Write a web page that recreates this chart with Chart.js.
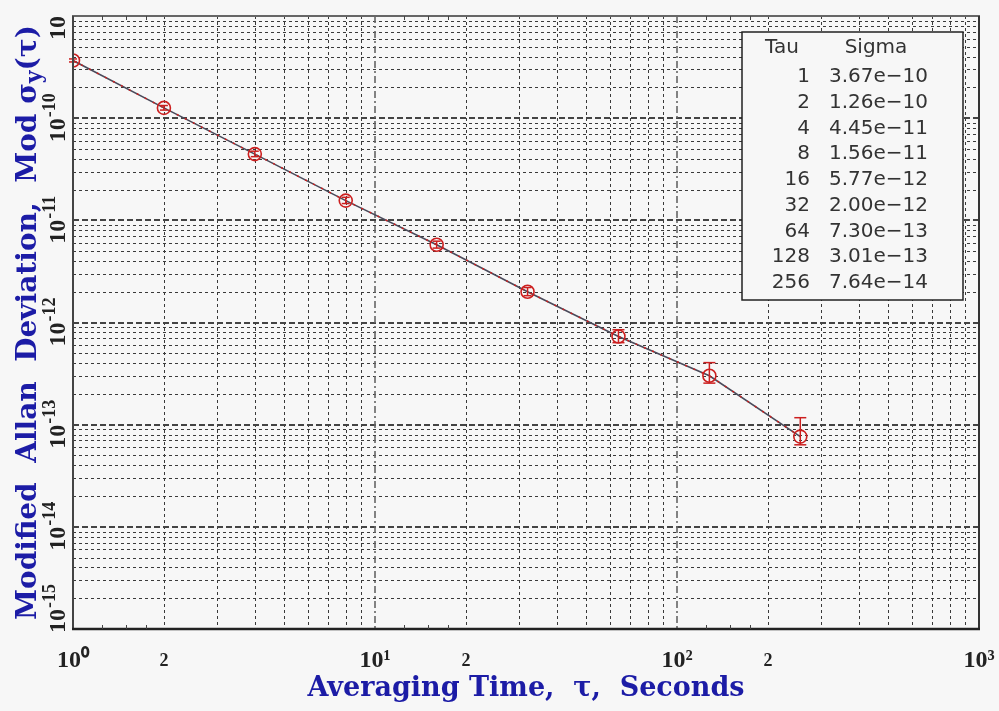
<!DOCTYPE html>
<html>
<head>
<meta charset="utf-8">
<script src="https://cdn.jsdelivr.net/npm/chart.js@4"></script>
<style>
  body { margin: 0; background: #f7f7f7; }
  canvas { display: block; background: #f7f7f7; }
</style>
</head>
<body>
<canvas id="adevChart" width="999" height="711"></canvas>
<script>
// measured points (tau in seconds, modified allan deviation)
var tauValues = [1, 2, 4, 8, 16, 32, 64, 128, 256];
var sigmaValues = [3.67e-10, 1.26e-10, 4.45e-11, 1.56e-11, 5.77e-12, 2.00e-12, 7.30e-13, 3.01e-13, 7.64e-14];
// error bar ends
var sigmaHigh = [3.80e-10, 1.33e-10, 4.75e-11, 1.68e-11, 6.25e-12, 2.20e-12, 8.50e-13, 4.05e-13, 1.17e-13];
var sigmaLow = [3.55e-10, 1.20e-10, 4.20e-11, 1.46e-11, 5.35e-12, 1.83e-12, 6.35e-13, 2.55e-13, 6.35e-14];

// axis ticks
var xTickValues = [1, 2, 10, 20, 100, 200, 1000];
var xTickLabels = ['10\u2070', '2', '10\u00b9', '2', '10\u00b2', '2', '10\u00b3'];
var yTickValues = [1e-15, 1e-14, 1e-13, 1e-12, 1e-11, 1e-10, 1e-9];
var yTickExponents = ['-15', '-14', '-13', '-12', '-11', '-10', ''];

var titleBlue = '#1c1ca6';
var markRed = '#cc1f1f';

var points = tauValues.map(function(t, i) { return { x: t, y: sigmaValues[i] }; });

function line(ctx, x1, y1, x2, y2) {
    ctx.beginPath();
    ctx.moveTo(x1, y1);
    ctx.lineTo(x2, y2);
    ctx.stroke();
}

// dotted grid like the original plot
var gridPlugin = {
    id: 'logGrid',
    beforeDatasetsDraw: function(chart) {
        var ctx = chart.ctx, a = chart.chartArea;
        var xs = chart.scales.x, ys = chart.scales.y;
        ctx.save();
        ctx.beginPath();
        ctx.rect(a.left, a.top, a.right - a.left, a.bottom - a.top);
        ctx.clip();

        // minor lines
        ctx.strokeStyle = '#3a3a3a';
        ctx.lineWidth = 1;
        ctx.setLineDash([3, 3]);
        for (var d = 0; d < 3; d++) {
            for (var k = 2; k <= 9; k++) {
                var px = Math.round(xs.getPixelForValue(k * Math.pow(10, d))) + 0.5;
                line(ctx, px, a.top, px, a.bottom);
            }
        }
        for (var e = -15; e < -9; e++) {
            for (var k = 2; k <= 9; k++) {
                var py = Math.round(ys.getPixelForValue(k * Math.pow(10, e))) + 0.5;
                line(ctx, a.left, py, a.right, py);
            }
        }

        // decade lines
        ctx.strokeStyle = '#444';
        ctx.lineWidth = 2;
        ctx.setLineDash([6, 3]);
        for (var e = -14; e <= -10; e++) {
            var py = Math.round(ys.getPixelForValue(Math.pow(10, e)));
            line(ctx, a.left, py, a.right, py);
        }
        ctx.strokeStyle = '#666';
        ctx.lineWidth = 1.6;
        ctx.setLineDash([7, 3, 2, 3]);
        [10, 100].forEach(function(v) {
            var px = Math.round(xs.getPixelForValue(v));
            line(ctx, px, a.top, px, a.bottom);
        });
        ctx.restore();
    }
};

// vertical error bars
var errorBarPlugin = {
    id: 'errorBars',
    afterDatasetsDraw: function(chart) {
        var ctx = chart.ctx;
        var xs = chart.scales.x, ys = chart.scales.y;
        ctx.save();
        ctx.strokeStyle = markRed;
        ctx.lineWidth = 1.5;
        for (var i = 0; i < tauValues.length; i++) {
            var px = xs.getPixelForValue(tauValues[i]);
            var yTop = ys.getPixelForValue(sigmaHigh[i]);
            var yBot = ys.getPixelForValue(sigmaLow[i]);
            var cap = i >= 6 ? 6 : 4;
            line(ctx, px, yTop, px, yBot);
            line(ctx, px - cap, yTop, px + cap, yTop);
            line(ctx, px - cap, yBot, px + cap, yBot);
        }
        ctx.restore();
    }
};

// frame, rotated y labels, y title and the tau/sigma table
var decorPlugin = {
    id: 'decor',
    afterDraw: function(chart) {
        var ctx = chart.ctx, a = chart.chartArea;
        var xs = chart.scales.x, ys = chart.scales.y;
        ctx.save();

        // frame
        ctx.setLineDash([]);
        ctx.strokeStyle = '#666';
        ctx.lineWidth = 2;
        line(ctx, a.left - 1, a.top, a.right + 1, a.top);
        ctx.strokeStyle = '#333';
        line(ctx, a.right, a.top, a.right, a.bottom);
        ctx.strokeStyle = '#444';
        line(ctx, a.left, a.top, a.left, a.bottom + 1);
        ctx.strokeStyle = '#222';
        ctx.lineWidth = 2.5;
        line(ctx, a.left - 1, a.bottom, a.right + 1, a.bottom);

        // small minor ticks on top and bottom
        ctx.lineWidth = 1;
        ctx.strokeStyle = '#444';
        [1, 10, 100].forEach(function(d) {
            [1.25, 1.5, 1.75].forEach(function(f) {
                var px = Math.round(xs.getPixelForValue(d * f)) + 0.5;
                line(ctx, px, a.bottom - 4, px, a.bottom);
                line(ctx, px, a.top, px, a.top + 4);
            });
        });

        // y tick labels, rotated
        ctx.fillStyle = '#222';
        var baseFont = 'bold 24px "Liberation Serif"';
        var expFont = 'bold 18px "Liberation Serif"';
        for (var i = 0; i < yTickValues.length; i++) {
            var py = ys.getPixelForValue(yTickValues[i]);
            ctx.font = baseFont;
            var wBase = ctx.measureText('10').width;
            ctx.font = expFont;
            var wExp = ctx.measureText(yTickExponents[i] || '-10').width;
            var start = py + (wBase + wExp) / 2;
            if (start > a.bottom + 4) start = a.bottom + 4;
            ctx.save();
            ctx.translate(65, start);
            ctx.rotate(-Math.PI / 2);
            ctx.textBaseline = 'alphabetic';
            ctx.textAlign = 'left';
            ctx.font = baseFont;
            ctx.fillText('10', 0, 0);
            ctx.font = expFont;
            ctx.fillText(yTickExponents[i], wBase + 1, -10);
            ctx.restore();
        }

        // y axis title with subscript
        var parts = [
            { t: 'Modified  Allan  Deviation,  Mod \u03c3', f: 'bold 28px "DejaVu Serif"', dy: 0 },
            { t: 'y', f: 'bold 22px "DejaVu Serif"', dy: 5 },
            { t: '(\u03c4)', f: 'bold 28px "DejaVu Serif"', dy: 0 }
        ];
        var total = 0;
        parts.forEach(function(p) { ctx.font = p.f; p.w = ctx.measureText(p.t).width; total += p.w; });
        ctx.save();
        ctx.translate(36, (a.top + a.bottom) / 2 + total / 2);
        ctx.rotate(-Math.PI / 2);
        ctx.fillStyle = titleBlue;
        ctx.textBaseline = 'alphabetic';
        ctx.textAlign = 'left';
        var cx = 0;
        parts.forEach(function(p) {
            ctx.font = p.f;
            ctx.fillText(p.t, cx, p.dy);
            cx += p.w;
        });
        ctx.restore();

        // tau / sigma table
        var bx = 742, by = 32, bw = 221, bh = 268;
        ctx.fillStyle = '#f7f7f7';
        ctx.fillRect(bx, by, bw, bh);
        ctx.strokeStyle = '#222';
        ctx.lineWidth = 1.5;
        ctx.strokeRect(bx, by, bw, bh);
        ctx.fillStyle = '#333';
        ctx.font = '20px "DejaVu Sans"';
        ctx.textBaseline = 'middle';
        ctx.textAlign = 'center';
        ctx.fillText('Tau', 782, 48);
        ctx.fillText('Sigma', 876, 48);
        for (var r = 0; r < tauValues.length; r++) {
            var ry = 77 + r * 25.75;
            ctx.textAlign = 'right';
            ctx.fillText(String(tauValues[r]), 810, ry);
            ctx.textAlign = 'left';
            ctx.fillText(sigmaValues[r].toExponential(2).replace('-', '\u2212'), 829, ry);
        }
        ctx.restore();
    }
};

var ctx = document.getElementById('adevChart').getContext('2d');

new Chart(ctx, {
    type: 'scatter',
    data: {
        datasets: [{
            label: 'Mod sigma',
            data: points,
            showLine: true,
            borderColor: '#4a4a5a',
            borderWidth: 1.6,
            pointRadius: 6.5,
            pointBorderWidth: 1.6,
            pointBorderColor: markRed,
            pointBackgroundColor: 'rgba(0,0,0,0)',
            order: 1
        }, {
            label: 'red trace',
            data: points,
            showLine: true,
            borderColor: markRed,
            borderWidth: 1.5,
            borderDash: [2, 7],
            pointRadius: 0,
            order: 0
        }]
    },
    options: {
        responsive: false,
        devicePixelRatio: 1,
        animation: false,
        layout: { padding: { top: 16, right: 20, left: 0, bottom: 0 } },
        plugins: {
            legend: { display: false },
            tooltip: { enabled: false }
        },
        scales: {
            x: {
                type: 'logarithmic',
                min: 1,
                max: 1000,
                grid: { display: false },
                border: { display: false },
                afterBuildTicks: function(scale) {
                    scale.ticks = xTickValues.map(function(v) { return { value: v }; });
                },
                afterFit: function(scale) {
                    scale.height = 82;
                    scale.paddingLeft = 0;
                    scale.paddingRight = 0;
                },
                ticks: {
                    autoSkip: false,
                    maxRotation: 0,
                    padding: 11,
                    color: '#222',
                    font: function(c) {
                        return xTickLabels[c.index] === '2'
                            ? { family: '"Liberation Serif"', size: 18, weight: 'bold', lineHeight: 1.46 }
                            : { family: '"Liberation Serif"', size: 24, weight: 'bold', lineHeight: 1.1 };
                    },
                    callback: function(value, index) { return xTickLabels[index]; }
                },
                title: {
                    display: true,
                    text: 'Averaging Time,  \u03c4,  Seconds',
                    color: titleBlue,
                    font: { family: '"DejaVu Serif"', size: 27, weight: 'bold' },
                    padding: { top: 0, bottom: 6 }
                }
            },
            y: {
                type: 'logarithmic',
                min: 1e-15,
                max: 1e-9,
                grid: { display: false },
                border: { display: false },
                ticks: { display: false },
                afterFit: function(scale) { scale.width = 73; }
            }
        }
    },
    plugins: [gridPlugin, errorBarPlugin, decorPlugin]
});
</script>
</body>
</html>
